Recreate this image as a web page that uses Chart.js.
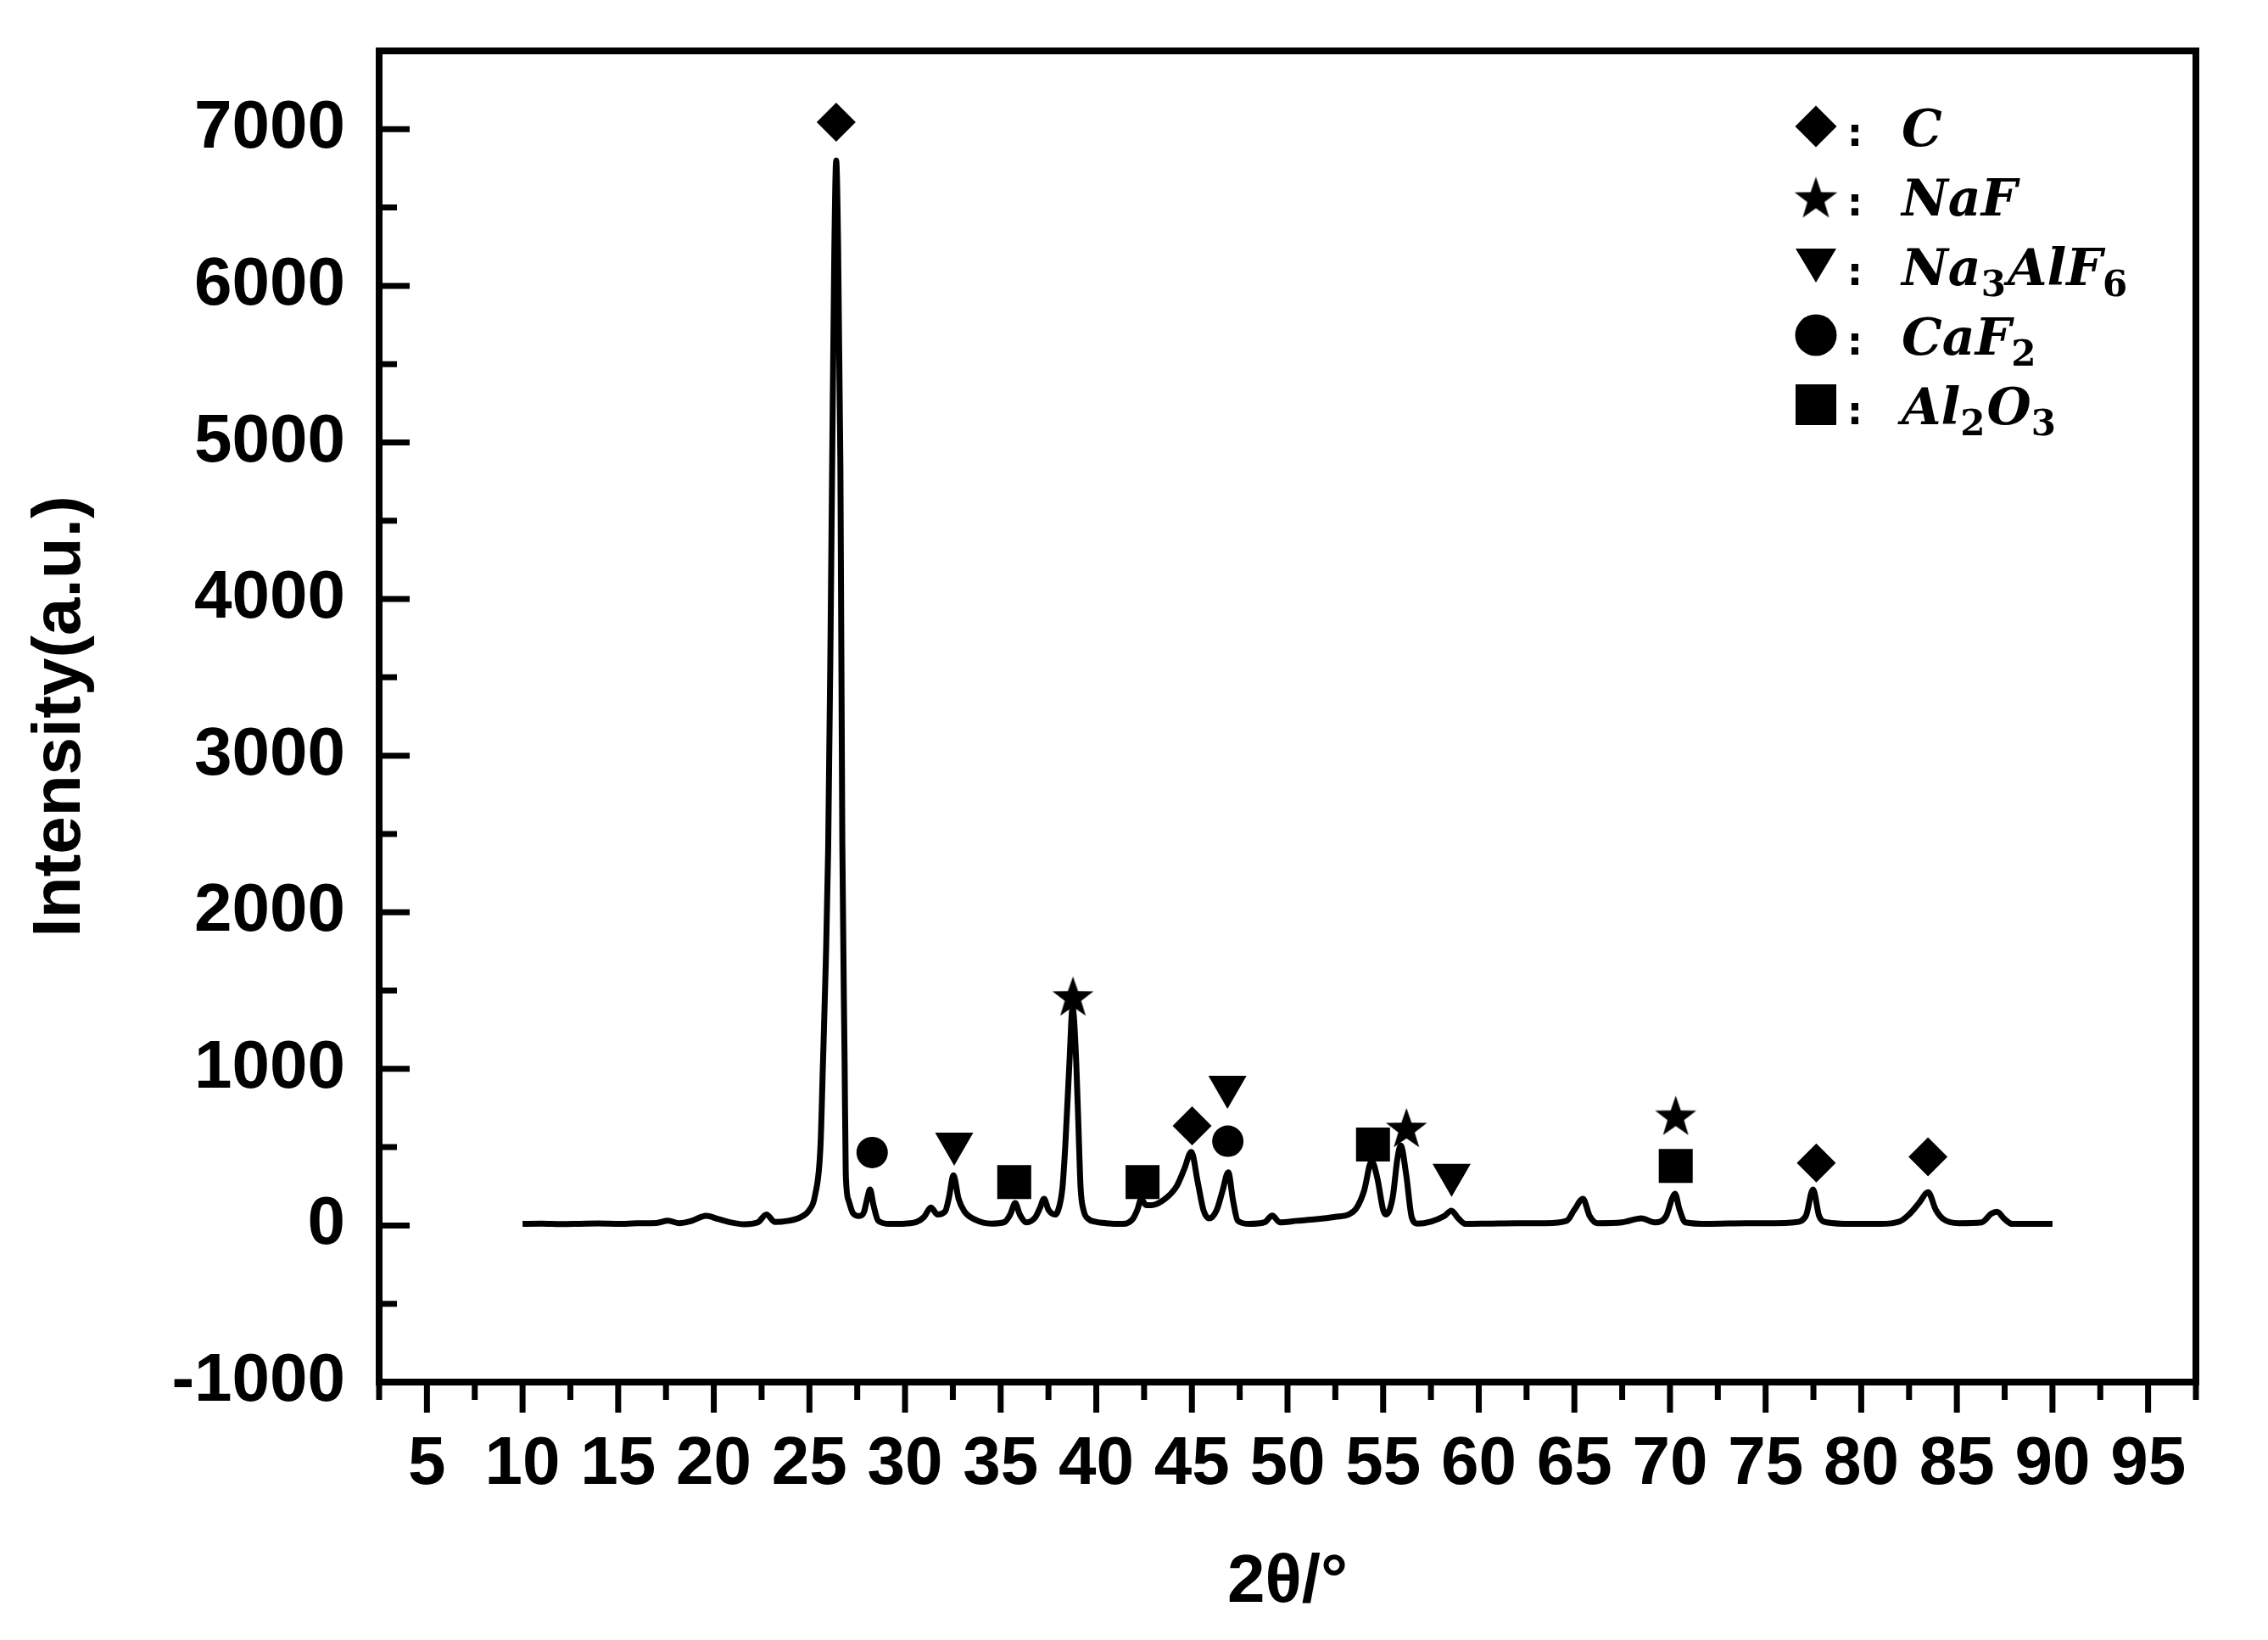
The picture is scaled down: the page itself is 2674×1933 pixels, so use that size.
<!DOCTYPE html>
<html>
<head>
<meta charset="utf-8">
<title>XRD pattern</title>
<script src="https://cdn.jsdelivr.net/npm/chart.js@4.4.1/dist/chart.umd.min.js"></script>
<style>
  html, body { margin: 0; padding: 0; background: #fff; }
  canvas { display: block; }
</style>
</head>
<body>
<canvas id="xrd" width="2674" height="1933"></canvas>
<script>
// XRD pattern
var twoTheta = [
  10.0, 11.0, 12.0, 13.0, 14.0, 15.0, 16.0, 17.0, 17.6, 18.2, 18.8, 19.6, 20.2, 20.8, 21.6, 22.3, 22.75, 23.2, 23.9, 24.5,
  25.0, 25.28, 25.58, 25.7, 25.85, 25.98, 26.1, 26.2, 26.3, 26.4, 26.5, 26.62, 26.72, 26.84, 26.9, 27.05, 27.28, 27.6,
  27.85, 28.0, 28.17, 28.35, 28.6, 29.2, 30.0, 30.6, 31.0, 31.35, 31.7, 32.1, 32.3, 32.53, 32.8, 33.1, 33.7, 34.5,
  35.2, 35.5, 35.76, 36.0, 36.35, 36.8, 37.05, 37.27, 37.5, 37.85, 38.0, 38.23, 38.38, 38.6, 38.76, 38.95, 39.1,
  39.18, 39.34, 39.6, 39.93, 40.5, 41.4, 41.9, 42.15, 42.35, 42.6, 42.9, 43.6, 44.2, 44.6, 44.97, 45.3, 45.6, 45.9,
  46.3, 46.6, 46.9, 47.15, 47.4, 48.0, 48.8, 49.2, 49.6, 50.5, 51.5, 52.5, 53.2, 53.6, 54.0, 54.4, 54.7, 55.0, 55.15,
  55.5, 55.75, 55.92, 56.2, 56.5, 56.8, 57.5, 58.2, 58.57, 58.9, 59.3, 60.5, 62.0, 63.5, 64.6, 65.0, 65.45, 65.8,
  66.2, 67.5, 68.5, 69.2, 69.8, 70.1, 70.26, 70.5, 70.8, 72.0, 74.0, 75.5, 76.5, 77.1, 77.48, 77.8, 78.2, 79.5,
  81.0, 82.0, 82.5, 83.0, 83.5, 83.9, 84.3, 85.1, 86.3, 86.8, 87.1, 87.5, 87.9, 89.0, 90.0
];
var intensity = [
  10, 12, 9, 11, 13, 10, 14, 16, 30, 15, 28, 62, 42, 22, 8, 20, 70, 22, 30, 50,
  100, 185, 510, 1000, 1650, 2400, 3700, 5000, 6200, 6800, 6250, 4850, 2450, 1050, 330, 160, 78, 60,
  85, 160, 230, 130, 30, 10, 12, 22, 55, 115, 70, 90, 180, 320, 170, 90, 35, 12,
  22, 70, 143, 70, 20, 50, 110, 170, 100, 70, 95, 240, 510, 1050, 1390, 1050, 510,
  240, 95, 40, 25, 15, 10, 40, 100, 170, 130, 130, 170, 250, 360, 470, 280, 100, 45,
  100, 220, 340, 160, 30, 10, 20, 63, 20, 30, 40, 55, 70, 110, 220, 410, 300, 100, 70,
  180, 430, 510, 330, 50, 12, 25, 60, 95, 50, 10, 12, 15, 15, 30, 100, 170, 60,
  15, 20, 45, 20, 60, 170, 203, 100, 20, 10, 15, 15, 20, 60, 230, 60, 20, 10,
  10, 25, 70, 140, 212, 100, 40, 15, 20, 75, 88, 40, 10, 10, 10
];

// phase marks above the peaks
var cMarkX = [26.40, 45.01, 77.65, 83.49];
var cMarkY = [7045, 636, 399, 439];
var nafMarkX = [38.78, 56.22, 70.30];
var nafMarkY = [1452, 612, 690];
var cryoMarkX = [32.57, 46.86, 58.58];
var cryoMarkY = [522, 885, 323];
var caf2MarkX = [28.28, 46.88];
var caf2MarkY = [466, 538];
var al2o3MarkX = [35.71, 42.42, 54.47, 70.30];
var al2o3MarkY = [277, 277, 517, 380];

// axes
var xTicks = [5, 10, 15, 20, 25, 30, 35, 40, 45, 50, 55, 60, 65, 70, 75, 80, 85, 90, 95];
var xMinor = [2.5, 7.5, 12.5, 17.5, 22.5, 27.5, 32.5, 37.5, 42.5, 47.5, 52.5, 57.5, 62.5, 67.5, 72.5, 77.5, 82.5, 87.5, 92.5, 97.5];
var yTicks = [-1000, 0, 1000, 2000, 3000, 4000, 5000, 6000, 7000];
var yMinor = [-500, 500, 1500, 2500, 3500, 4500, 5500, 6500];

// legend text: [text, subscript?]
var legendShapes = ['diamond', 'star', 'triangle', 'circle', 'square'];
var legendLabels = [
  [['C', 0]],
  [['NaF', 0]],
  [['Na', 0], ['3', 1], ['AlF', 0], ['6', 1]],
  [['CaF', 0], ['2', 1]],
  [['Al', 0], ['2', 1], ['O', 0], ['3', 1]]
];

function makeStar(R) {
  var c = document.createElement('canvas');
  var s = Math.ceil(2 * R + 4);
  c.width = s;
  c.height = s;
  var g = c.getContext('2d');
  g.translate(s / 2, s / 2);
  g.beginPath();
  for (var i = 0; i < 10; i++) {
    var r = i % 2 ? R * 0.4 : R;
    var a = -Math.PI / 2 + i * Math.PI / 5;
    g.lineTo(r * Math.cos(a), r * Math.sin(a));
  }
  g.closePath();
  g.fillStyle = '#000';
  g.fill();
  return c;
}

var starImg = makeStar(25.5);
var legendStar = makeStar(26.5);

function pts(xs, ys) {
  return xs.map(function (v, i) { return { x: v, y: ys[i] }; });
}

function drawMark(ctx, shape, x, y) {
  ctx.beginPath();
  if (shape === 'diamond') {
    ctx.moveTo(x, y - 24.5); ctx.lineTo(x + 24.5, y); ctx.lineTo(x, y + 24.5); ctx.lineTo(x - 24.5, y);
    ctx.closePath(); ctx.fill();
  } else if (shape === 'star') {
    ctx.drawImage(legendStar, x - legendStar.width / 2, y - legendStar.height / 2 + 4);
  } else if (shape === 'triangle') {
    ctx.moveTo(x - 24, y - 20); ctx.lineTo(x + 24, y - 20); ctx.lineTo(x, y + 20);
    ctx.closePath(); ctx.fill();
  } else if (shape === 'circle') {
    ctx.arc(x, y, 24.5, 0, Math.PI * 2); ctx.fill();
  } else {
    ctx.rect(x - 24, y - 24, 48, 48); ctx.fill();
  }
}

var frame = {
  id: 'frame',
  afterDraw: function (chart) {
    var ctx = chart.ctx, a = chart.chartArea, x = chart.scales.x, y = chart.scales.y;
    ctx.save();
    ctx.strokeStyle = '#000';
    ctx.fillStyle = '#000';
    ctx.lineWidth = 8;
    ctx.lineJoin = 'miter';
    ctx.strokeRect(a.left, a.top, a.right - a.left, a.bottom - a.top);

    // ticks: x outward, y inward
    ctx.lineWidth = 7;
    ctx.beginPath();
    xTicks.forEach(function (v) {
      var px = x.getPixelForValue(v);
      ctx.moveTo(px, a.bottom); ctx.lineTo(px, a.bottom + 36);
    });
    xMinor.forEach(function (v) {
      var px = x.getPixelForValue(v);
      ctx.moveTo(px, a.bottom); ctx.lineTo(px, a.bottom + 21);
    });
    yTicks.forEach(function (v) {
      var py = y.getPixelForValue(v);
      ctx.moveTo(a.left, py); ctx.lineTo(a.left + 36, py);
    });
    yMinor.forEach(function (v) {
      var py = y.getPixelForValue(v);
      ctx.moveTo(a.left, py); ctx.lineTo(a.left + 21, py);
    });
    ctx.stroke();

    // legend
    var mx = a.right - 448, cx = a.right - 402, tx = a.right - 347;
    legendLabels.forEach(function (parts, i) {
      var base = a.top + 112 + i * 82;
      drawMark(ctx, legendShapes[i], mx, base - 23);
      ctx.font = 'bold 46px "DejaVu Sans"';
      ctx.textAlign = 'center';
      ctx.textBaseline = 'alphabetic';
      ctx.fillText(':', cx, base);
      ctx.textAlign = 'left';
      var px = tx;
      parts.forEach(function (p) {
        ctx.font = p[1] ? 'bold 42px "DejaVu Serif"' : 'italic bold 60px "DejaVu Serif"';
        ctx.fillText(p[0], px, p[1] ? base + 13 : base);
        px += ctx.measureText(p[0]).width + (p[1] ? 2 : 0);
      });
    });
    ctx.restore();
  }
};

var axisFont = { family: '"Liberation Sans", Arial, sans-serif', size: 80, weight: 'bold' };

new Chart(document.getElementById('xrd'), {
  data: {
    datasets: [
      {
        type: 'line',
        data: pts(twoTheta, intensity),
        borderColor: '#000',
        borderWidth: 7,
        pointRadius: 0,
        cubicInterpolationMode: 'monotone',
        fill: false
      },
      { type: 'scatter', data: pts(cMarkX, cMarkY), pointStyle: 'rectRot', pointRadius: 23, backgroundColor: '#000', borderWidth: 0 },
      { type: 'scatter', data: pts(nafMarkX, nafMarkY), pointStyle: starImg, pointRadius: 25, backgroundColor: '#000', borderWidth: 0 },
      { type: 'scatter', data: pts(cryoMarkX, cryoMarkY), pointStyle: 'triangle', rotation: 180, pointRadius: 26, backgroundColor: '#000', borderWidth: 0 },
      { type: 'scatter', data: pts(caf2MarkX, caf2MarkY), pointStyle: 'circle', pointRadius: 18.5, backgroundColor: '#000', borderWidth: 0 },
      { type: 'scatter', data: pts(al2o3MarkX, al2o3MarkY), pointStyle: 'rect', pointRadius: 28.3, backgroundColor: '#000', borderWidth: 0 }
    ]
  },
  options: {
    responsive: false,
    animation: false,
    devicePixelRatio: 1,
    layout: { padding: { top: 60, right: 85, left: 0, bottom: 0 } },
    plugins: {
      legend: { display: false },
      tooltip: { enabled: false }
    },
    scales: {
      x: {
        type: 'linear',
        min: 2.5,
        max: 97.5,
        afterBuildTicks: function (s) { s.ticks = xTicks.map(function (v) { return { value: v }; }); },
        afterFit: function (s) { s.height = 304; s.paddingLeft = 0; s.paddingRight = 0; },
        grid: { display: false, drawTicks: false },
        border: { display: false },
        ticks: { autoSkip: false, maxRotation: 0, padding: 50, color: '#000', font: axisFont },
        title: { display: true, text: '2θ/°', color: '#000', font: axisFont, padding: { top: 0, bottom: 19 } }
      },
      y: {
        type: 'linear',
        min: -1000,
        max: 7500,
        afterBuildTicks: function (s) { s.ticks = yTicks.map(function (v) { return { value: v }; }); },
        afterFit: function (s) { s.width = 447; s.paddingTop = 0; s.paddingBottom = 0; },
        grid: { display: false, drawTicks: false },
        border: { display: false },
        ticks: {
          padding: 40,
          color: '#000',
          font: axisFont,
          callback: function (v) { return String(v); }
        },
        title: { display: true, text: 'Intensity(a.u.)', color: '#000', font: axisFont, padding: { top: 24, bottom: 0 } }
      }
    }
  },
  plugins: [frame]
});
</script>
</body>
</html>
